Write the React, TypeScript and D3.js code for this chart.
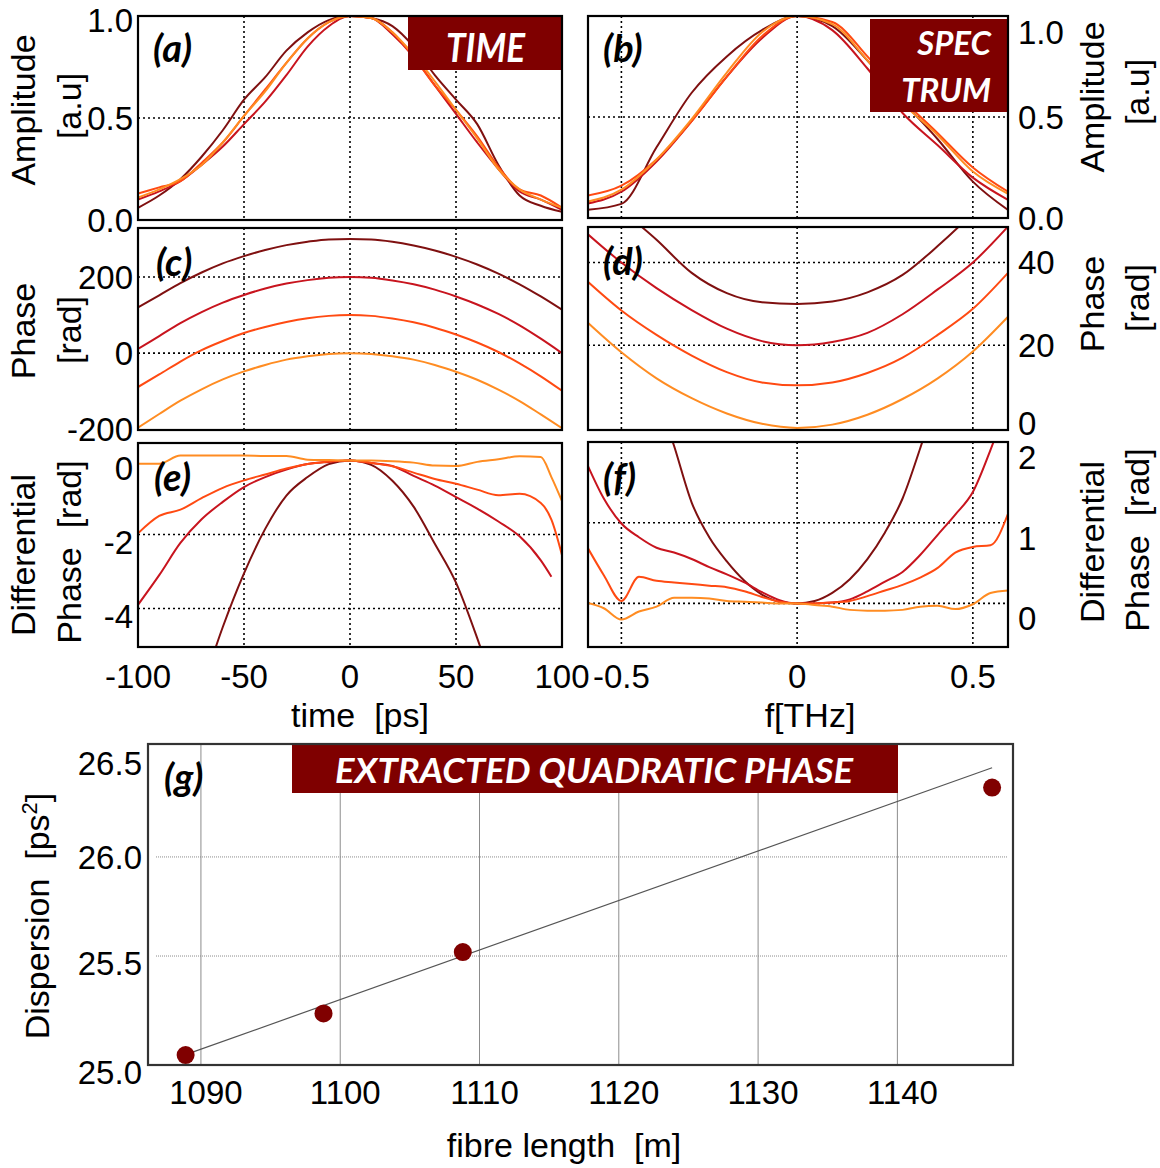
import React from "react";
import * as d3 from "d3";

// series colours: longest fibre (darkest) -> shortest (orange)
const SERIES_COLORS = ["#7f1010", "#c8141e", "#ff4a12", "#ff8c22"];
const BANNER = "#7f0000";
const SANS = "'Liberation Sans', Arial, sans-serif";
const HUMANIST = "Lato, 'Open Sans', sans-serif";

// ---- time domain (ps) ----
const timeGrid = [-100, -90, -80, -70, -60, -50, -40, -30, -20, -10, 0, 10, 20, 30, 40, 50, 60, 70, 80, 90, 100];

const ampTime1 = [0.06, 0.12, 0.2, 0.31, 0.44, 0.59, 0.7, 0.83, 0.92, 0.98, 1.0, 0.99, 0.95, 0.85, 0.71, 0.59, 0.47, 0.27, 0.12, 0.07, 0.04];
const ampTime2 = [0.1, 0.14, 0.19, 0.27, 0.36, 0.47, 0.58, 0.71, 0.85, 0.95, 1.0, 0.99, 0.91, 0.8, 0.66, 0.52, 0.38, 0.25, 0.14, 0.1, 0.05];
const ampTime3 = [0.13, 0.16, 0.19, 0.28, 0.38, 0.51, 0.64, 0.77, 0.89, 0.97, 1.0, 0.99, 0.92, 0.8, 0.66, 0.54, 0.41, 0.26, 0.15, 0.12, 0.06];
const ampTime4 = [0.11, 0.15, 0.2, 0.27, 0.38, 0.51, 0.63, 0.77, 0.89, 0.97, 1.0, 0.99, 0.92, 0.81, 0.68, 0.54, 0.4, 0.25, 0.15, 0.1, 0.06];

const phaseTime1 = [120, 152, 184, 212, 236, 255, 271, 284, 293, 299, 300, 299, 293, 283, 270, 253, 233, 209, 181, 149, 114];
const phaseTime2 = [11, 45, 79, 108, 133, 153, 170, 183, 192, 198, 200, 198, 191, 181, 167, 149, 128, 103, 73, 38, 0];
const phaseTime3 = [-89, -56, -22, 8, 32, 53, 69, 82, 92, 98, 100, 98, 91, 81, 67, 49, 28, 3, -27, -61, -99];
const phaseTime4 = [-196, -160, -125, -95, -69, -48, -31, -17, -8, -2, 0, -2, -8, -17, -31, -49, -70, -96, -126, -161, -197];

const diffTimeGrid = [-100, -90, -80, -70, -60, -50, -40, -30, -20, -10, 0, 10, 20, 30, 40, 50, 60, 70, 80, 90, 95, 100];
const diffTime1 = [null, null, null, -6.2, -4.5, -3.05, -1.85, -0.95, -0.45, -0.1, 0, -0.12, -0.55, -1.25, -2.25, -3.3, -4.8, -6.5, null, null, null, null];
const diffTime2 = [-3.9, -3.1, -2.23, -1.59, -1.12, -0.72, -0.45, -0.25, -0.1, -0.04, 0, -0.07, -0.15, -0.42, -0.68, -0.99, -1.3, -1.65, -2.05, -2.7, -3.14, null];
const diffTime3 = [-1.97, -1.5, -1.33, -1.02, -0.74, -0.54, -0.38, -0.22, -0.1, -0.03, 0, -0.07, -0.16, -0.33, -0.5, -0.63, -0.79, -0.94, -0.9, -1.15, -1.6, -2.56];
const diffTime4 = [-0.09, -0.09, 0.13, 0.13, 0.13, 0.13, 0.12, 0.12, 0.02, 0.01, 0, 0, -0.02, -0.06, -0.14, -0.15, -0.04, 0.03, 0.11, 0.09, -0.45, -1.1];

// ---- spectral domain (THz) ----
const freqGrid = [-0.6, -0.5, -0.4, -0.3, -0.2, -0.1, 0, 0.1, 0.2, 0.3, 0.4, 0.5, 0.6];

const ampSpec1 = [0.04, 0.07, 0.35, 0.62, 0.8, 0.93, 1.0, 0.95, 0.78, 0.58, 0.39, 0.18, 0.04];
const ampSpec2 = [0.07, 0.13, 0.28, 0.48, 0.7, 0.89, 1.0, 0.93, 0.74, 0.52, 0.36, 0.2, 0.09];
const ampSpec3 = [0.11, 0.16, 0.29, 0.48, 0.7, 0.9, 1.0, 0.97, 0.8, 0.59, 0.42, 0.25, 0.13];
const ampSpec4 = [0.08, 0.14, 0.29, 0.49, 0.72, 0.92, 1.0, 0.96, 0.78, 0.57, 0.41, 0.23, 0.12];

const phaseSpec1 = [62, 53, 45.5, 37.5, 32.6, 30.4, 30, 30.6, 32.8, 37, 44, 52, 61];
const phaseSpec2 = [47.2, 40, 33.8, 28.5, 24, 21, 20, 20.8, 23, 27.5, 33.5, 40, 48.7];
const phaseSpec3 = [35.7, 28.4, 22.5, 17.5, 13.5, 11, 10.3, 11, 13.3, 17, 22.5, 28.8, 37.5];
const phaseSpec4 = [25.8, 18.3, 12, 7.2, 3.5, 1, 0, 0.8, 3.2, 7, 12, 18.5, 26.9];

const diffFreqGrid = [-0.6, -0.55, -0.5, -0.45, -0.4, -0.35, -0.3, -0.25, -0.2, -0.15, -0.1, -0.05, 0, 0.05, 0.1, 0.15, 0.2, 0.25, 0.3, 0.35, 0.4, 0.45, 0.5, 0.55, 0.6];
const diffSpec1 = [null, null, null, null, 2.6, 1.95, 1.25, 0.82, 0.52, 0.28, 0.11, 0.02, 0, 0.03, 0.13, 0.3, 0.55, 0.88, 1.3, 1.92, 2.6, null, null, null, null];
const diffSpec2 = [1.75, 1.3, 0.99, 0.82, 0.69, 0.63, 0.55, 0.45, 0.36, 0.26, 0.14, 0.04, 0, 0, 0.01, 0.05, 0.15, 0.27, 0.39, 0.6, 0.85, 1.1, 1.38, 1.9, 2.5];
const diffSpec3 = [0.72, 0.35, 0.03, 0.33, 0.28, 0.26, 0.24, 0.22, 0.2, 0.15, 0.08, 0.02, 0, 0, 0.01, 0.03, 0.09, 0.16, 0.23, 0.32, 0.44, 0.63, 0.7, 0.72, 1.11];
const diffSpec4 = [0.01, -0.06, -0.2, -0.1, -0.04, 0.07, 0.07, 0.06, 0.03, 0.02, 0.01, 0, 0, -0.02, -0.04, -0.08, -0.09, -0.09, -0.08, -0.04, -0.03, -0.07, -0.01, 0.13, 0.16];

// ---- extracted quadratic phase ----
const fibreLength = [1088.9, 1098.8, 1108.8, 1146.8];
const dispersion = [25.0, 25.21, 25.52, 26.35];
const fitLength = [1089.2, 1146.8];
const fitDispersion = [25.01, 26.45];
const lengthTicks = [1090, 1100, 1110, 1120, 1130, 1140];
const dispersionTicks = [25.0, 25.5, 26.0, 26.5];

type Box = { l: number; r: number; t: number; b: number };
type Series = (number | null)[];

interface PanelProps {
  id: string;
  box: Box;
  xs: number[];
  series: Series[];
  xDomain: [number, number];
  yDomain: [number, number];
  xGrid: number[];
  yGrid: number[];
  yTicks: number[];
  yFmt: (v: number) => string;
  ySide: "left" | "right";
  yNudge?: (v: number) => number;
  xTicks?: number[];
  xFmt?: (v: number) => string;
  tag: string;
  tagAt: [number, number];
  children?: React.ReactNode;
}

const Tag = ({ x, y, text }: { x: number; y: number; text: string }) => (
  <text x={x} y={y} fontFamily={HUMANIST} fontWeight="bold" fontStyle="italic" fontSize={38}>
    {text}
  </text>
);

const Panel = (p: PanelProps) => {
  const { box } = p;
  const x = d3.scaleLinear().domain(p.xDomain).range([box.l, box.r]);
  const y = d3.scaleLinear().domain(p.yDomain).range([box.b, box.t]);
  const line = d3
    .line<[number, number | null]>()
    .defined((d) => d[1] !== null)
    .x((d) => x(d[0]))
    .y((d) => y(d[1] as number))
    .curve(d3.curveMonotoneX);

  return (
    <g>
      <clipPath id={p.id}>
        <rect x={box.l} y={box.t} width={box.r - box.l} height={box.b - box.t} />
      </clipPath>
      {/* dotted grid */}
      <g stroke="#000" strokeWidth={1.6} strokeDasharray="2 3">
        {p.xGrid.map((v) => (
          <line key={"gx" + v} x1={x(v)} x2={x(v)} y1={box.t} y2={box.b} />
        ))}
        {p.yGrid.map((v) => (
          <line key={"gy" + v} x1={box.l} x2={box.r} y1={y(v)} y2={y(v)} />
        ))}
      </g>
      <g clipPath={`url(#${p.id})`} fill="none" strokeWidth={2} strokeLinejoin="round">
        {p.series.map((s, i) => (
          <path
            key={i}
            d={line(p.xs.map((xv, j) => [xv, s[j]] as [number, number | null])) || ""}
            stroke={SERIES_COLORS[i]}
          />
        ))}
      </g>
      {p.children}
      <rect x={box.l} y={box.t} width={box.r - box.l} height={box.b - box.t} fill="none" stroke="#000" strokeWidth={2.2} />
      <Tag x={p.tagAt[0]} y={p.tagAt[1]} text={p.tag} />
      <g fontFamily={SANS} fontSize={33} fill="#000">
        {p.yTicks.map((v) => (
          <text
            key={"ty" + v}
            x={p.ySide === "left" ? box.l - 5 : box.r + 10}
            y={y(v) + (p.yNudge ? p.yNudge(v) : 0)}
            dy="0.36em"
            textAnchor={p.ySide === "left" ? "end" : "start"}
          >
            {p.yFmt(v)}
          </text>
        ))}
        {(p.xTicks || []).map((v) => (
          <text key={"tx" + v} x={x(v)} y={box.b + 29} dy="0.36em" textAnchor="middle">
            {p.xFmt ? p.xFmt(v) : String(v)}
          </text>
        ))}
      </g>
    </g>
  );
};

const AxisTitle = ({ x, y, text, rotate = false }: { x: number; y: number; text: React.ReactNode; rotate?: boolean }) => (
  <text
    transform={`translate(${x},${y})${rotate ? " rotate(-90)" : ""}`}
    dy="0.36em"
    textAnchor="middle"
    fontFamily={SANS}
    fontSize={34}
    style={{ whiteSpace: "pre" }}
  >
    {text}
  </text>
);

const fmt1 = d3.format(".1f");
const plain = (v: number) => String(v);

const DispersionPanel = () => {
  const box: Box = { l: 148, r: 1013, t: 744, b: 1065 };
  const x = d3.scaleLinear().domain([1086.2, 1148.3]).range([box.l, box.r]);
  const y = d3.scaleLinear().domain([24.95, 26.57]).range([box.b, box.t]);
  const fit = d3
    .line<number>()
    .x((d, i) => x(fitLength[i]))
    .y((d) => y(d));
  const labelNudge: Record<string, number> = { "25.0": 17, "25.5": 7, "26.0": 0, "26.5": 5 };

  return (
    <g>
      <g stroke="#8c8c8c" strokeWidth={1}>
        {lengthTicks.map((v) => (
          <line key={v} x1={x(v)} x2={x(v)} y1={box.t} y2={box.b} />
        ))}
        {[25.5, 26.0].map((v) => (
          <line key={v} x1={box.l + 8} x2={box.r - 6} y1={y(v)} y2={y(v)} strokeDasharray="1 1" />
        ))}
      </g>
      <rect x={292} y={box.t + 1} width={606} height={48} fill={BANNER} />
      <text
        x={335}
        y={783}
        fill="#fff"
        fontFamily={HUMANIST}
        fontWeight="bold"
        fontStyle="italic"
        fontSize={35}
        textLength={518}
        lengthAdjust="spacingAndGlyphs"
      >
        EXTRACTED QUADRATIC PHASE
      </text>
      <path d={fit(fitDispersion) || ""} stroke="#555" strokeWidth={1.2} fill="none" />
      {fibreLength.map((v, i) => (
        <circle key={v} cx={x(v)} cy={y(dispersion[i])} r={9} fill="#800000" />
      ))}
      <rect x={box.l} y={box.t} width={box.r - box.l} height={box.b - box.t} fill="none" stroke="#333" strokeWidth={2.2} />
      <Tag x={164} y={791} text="(g)" />
      <g fontFamily={SANS} fontSize={33}>
        {dispersionTicks.map((v) => (
          <text key={v} x={box.l - 6} y={y(v) + labelNudge[fmt1(v)]} dy="0.36em" textAnchor="end">
            {fmt1(v)}
          </text>
        ))}
        {lengthTicks.map((v) => (
          <text key={v} x={x(v) + 5} y={box.b + 27} dy="0.36em" textAnchor="middle">
            {v}
          </text>
        ))}
      </g>
      <AxisTitle x={564} y={1145} text="fibre length  [m]" />
      <AxisTitle
        x={37}
        y={916}
        rotate
        text={
          <>
            Dispersion  [ps<tspan baseline-shift="super" fontSize={22}>2</tspan>]
          </>
        }
      />
    </g>
  );
};

export default function App() {
  const tGridLines = [-50, 0, 50];
  const fGridLines = [-0.5, 0, 0.5];
  const tDomain: [number, number] = [-100, 100];
  const fDomain: [number, number] = [-0.595, 0.6];

  return (
    <div style={{ position: "absolute", left: 0, top: 0 }}>
      <svg width={1160} height={1168} style={{ display: "block", background: "#fff" }}>
        {/* (a) time amplitude */}
        <Panel
          id="clipA"
          box={{ l: 138, r: 562, t: 16, b: 220 }}
          xs={timeGrid}
          series={[ampTime1, ampTime2, ampTime3, ampTime4]}
          xDomain={tDomain}
          yDomain={[0, 1]}
          xGrid={tGridLines}
          yGrid={[0.5]}
          yTicks={[0, 0.5, 1]}
          yFmt={fmt1}
          ySide="left"
          yNudge={(v) => (v === 1 ? 4 : 0)}
          tag="(a)"
          tagAt={[153, 62]}
        >
          <rect x={408} y={17} width={154} height={53} fill={BANNER} />
          <text x={446} y={62} fill="#fff" fontFamily={HUMANIST} fontWeight="bold" fontStyle="italic" fontSize={40} textLength={79} lengthAdjust="spacingAndGlyphs">
            TIME
          </text>
        </Panel>

        {/* (b) spectral amplitude */}
        <Panel
          id="clipB"
          box={{ l: 588, r: 1008, t: 16, b: 218 }}
          xs={freqGrid}
          series={[ampSpec1, ampSpec2, ampSpec3, ampSpec4]}
          xDomain={fDomain}
          yDomain={[0, 1]}
          xGrid={fGridLines}
          yGrid={[0.5]}
          yTicks={[0, 0.5, 1]}
          yFmt={fmt1}
          ySide="right"
          yNudge={(v) => (v === 1 ? 16 : 0)}
          tag="(b)"
          tagAt={[603, 62]}
        >
          <rect x={870} y={19} width={138} height={93} fill={BANNER} />
          <g fill="#fff" fontFamily={HUMANIST} fontWeight="bold" fontStyle="italic" fontSize={33} textAnchor="end">
            <text x={991} y={55}>SPEC</text>
            <text x={991} y={102}>TRUM</text>
          </g>
        </Panel>

        {/* (c) time phase */}
        <Panel
          id="clipC"
          box={{ l: 138, r: 562, t: 228, b: 430 }}
          xs={timeGrid}
          series={[phaseTime1, phaseTime2, phaseTime3, phaseTime4]}
          xDomain={tDomain}
          yDomain={[-202, 329]}
          xGrid={tGridLines}
          yGrid={[0, 200]}
          yTicks={[-200, 0, 200]}
          yFmt={plain}
          ySide="left"
          tag="(c)"
          tagAt={[156, 276]}
        />

        {/* (d) spectral phase */}
        <Panel
          id="clipD"
          box={{ l: 588, r: 1008, t: 227, b: 430 }}
          xs={freqGrid}
          series={[phaseSpec1, phaseSpec2, phaseSpec3, phaseSpec4]}
          xDomain={fDomain}
          yDomain={[-0.5, 48.6]}
          xGrid={fGridLines}
          yGrid={[20, 40]}
          yTicks={[0, 20, 40]}
          yFmt={plain}
          ySide="right"
          yNudge={(v) => (v === 0 ? -5 : 0)}
          tag="(d)"
          tagAt={[603, 275]}
        />

        {/* (e) differential phase, time */}
        <Panel
          id="clipE"
          box={{ l: 138, r: 562, t: 443, b: 647 }}
          xs={diffTimeGrid}
          series={[diffTime1, diffTime2, diffTime3, diffTime4]}
          xDomain={tDomain}
          yDomain={[-5.04, 0.47]}
          xGrid={tGridLines}
          yGrid={[-4, -2]}
          yTicks={[-4, -2, 0]}
          yFmt={plain}
          ySide="left"
          yNudge={() => 8}
          xTicks={[-100, -50, 0, 50, 100]}
          tag="(e)"
          tagAt={[154, 491]}
        />

        {/* (f) differential phase, spectrum */}
        <Panel
          id="clipF"
          box={{ l: 588, r: 1008, t: 442, b: 647 }}
          xs={diffFreqGrid}
          series={[diffSpec1, diffSpec2, diffSpec3, diffSpec4]}
          xDomain={fDomain}
          yDomain={[-0.54, 2.0]}
          xGrid={fGridLines}
          yGrid={[0, 1]}
          yTicks={[0, 1, 2]}
          yFmt={plain}
          ySide="right"
          yNudge={() => 15}
          xTicks={[-0.5, 0, 0.5]}
          tag="(f)"
          tagAt={[603, 491]}
        />

        {/* axis titles */}
        <AxisTitle x={23} y={110} rotate text="Amplitude" />
        <AxisTitle x={69} y={106} rotate text="[a.u]" />
        <AxisTitle x={23} y={331} rotate text="Phase" />
        <AxisTitle x={69} y={330} rotate text="[rad]" />
        <AxisTitle x={23} y={555} rotate text="Differential" />
        <AxisTitle x={69} y={552} rotate text="Phase  [rad]" />
        <AxisTitle x={1092} y={97} rotate text="Amplitude" />
        <AxisTitle x={1137} y={92} rotate text="[a.u]" />
        <AxisTitle x={1092} y={304} rotate text="Phase" />
        <AxisTitle x={1137} y={298} rotate text="[rad]" />
        <AxisTitle x={1092} y={542} rotate text="Differential" />
        <AxisTitle x={1137} y={540} rotate text="Phase  [rad]" />
        <AxisTitle x={360} y={715} text="time  [ps]" />
        <AxisTitle x={810} y={715} text="f[THz]" />

        <DispersionPanel />
      </svg>
    </div>
  );
}
